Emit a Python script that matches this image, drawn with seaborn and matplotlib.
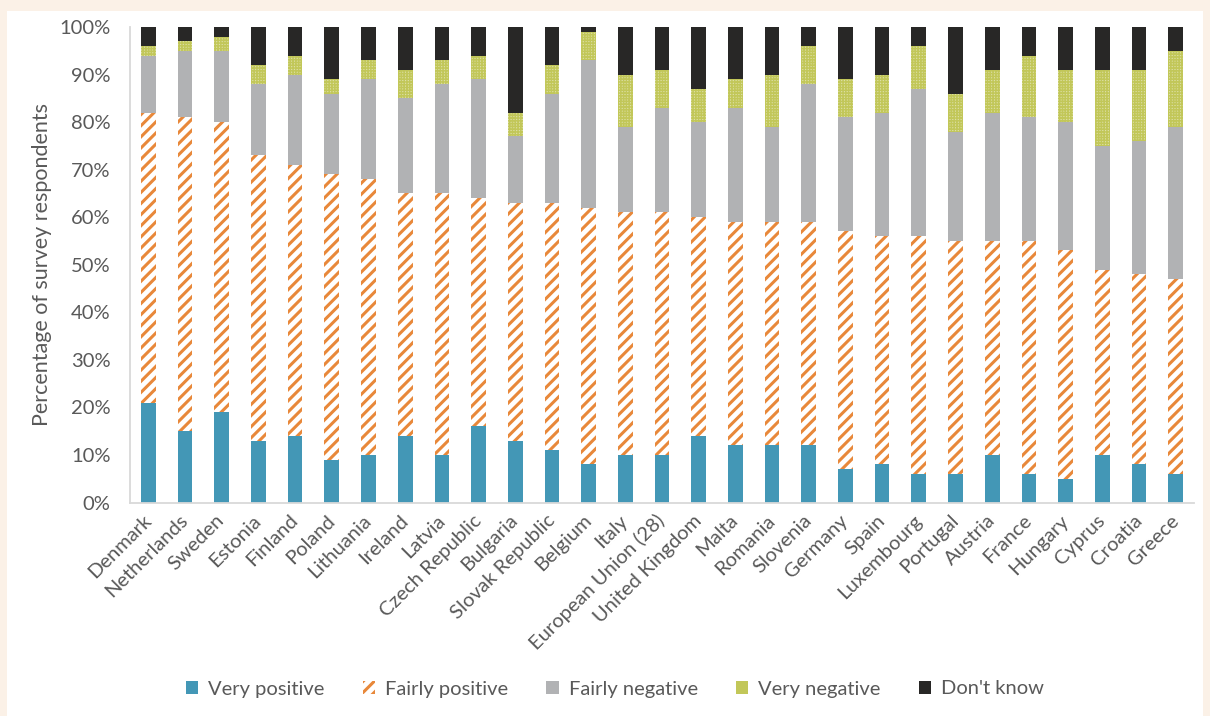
import numpy as np
import pandas as pd
import matplotlib
matplotlib.use("Agg")
import matplotlib.pyplot as plt
from matplotlib.patches import Rectangle
import seaborn as sns

countries = [
    "Denmark", "Netherlands", "Sweden", "Estonia", "Finland", "Poland",
    "Lithuania", "Ireland", "Latvia", "Czech Republic", "Bulgaria",
    "Slovak Republic", "Belgium", "Italy", "European Union (28)",
    "United Kingdom", "Malta", "Romania", "Slovenia", "Germany", "Spain",
    "Luxembourg", "Portugal", "Austria", "France", "Hungary", "Cyprus",
    "Croatia", "Greece",
]
very_positive = [21, 15, 19, 13, 14, 9, 10, 14, 10, 16, 13, 11, 8, 10, 10,
                 14, 12, 12, 12, 7, 8, 6, 6, 10, 6, 5, 10, 8, 6]
fairly_positive = [61, 66, 61, 60, 57, 60, 58, 51, 55, 48, 50, 52, 54, 51, 51,
                   46, 47, 47, 47, 50, 48, 50, 49, 45, 49, 48, 39, 40, 41]
fairly_negative = [12, 14, 15, 15, 19, 17, 21, 20, 23, 25, 14, 23, 31, 18, 22,
                   20, 24, 20, 29, 24, 26, 31, 23, 27, 26, 27, 26, 28, 32]
very_negative = [2, 2, 3, 4, 4, 3, 4, 6, 5, 5, 5, 6, 6, 11, 8,
                 7, 6, 11, 8, 8, 8, 9, 8, 9, 13, 11, 16, 15, 16]
dont_know = [4, 3, 2, 8, 6, 11, 7, 9, 7, 6, 18, 8, 1, 10, 9,
             13, 11, 10, 4, 11, 10, 4, 14, 9, 6, 9, 9, 9, 5]
series_names = ["Very positive", "Fairly positive", "Fairly negative",
                "Very negative", "Don't know"]

df = pd.DataFrame({
    "country": countries,
    "Very positive": very_positive,
    "Fairly positive": fairly_positive,
    "Fairly negative": fairly_negative,
    "Very negative": very_negative,
    "Don't know": dont_know,
})

sns.set_theme(style="white")
plt.rcParams["font.family"] = ["Lato", "DejaVu Sans"]
plt.rcParams["hatch.linewidth"] = 2.2
text_color = "#595959"
font_size = 14.5

# segment styles: facecolor, hatch, hatch colour, hatch line width
styles = {
    "Very positive": dict(facecolor="#4397B6", hatch=None, edgecolor="#4397B6", hlw=1.0),
    "Fairly positive": dict(facecolor="white", hatch="///", edgecolor="#E8883A", hlw=2.2),
    "Fairly negative": dict(facecolor="#B1B2B4", hatch=None, edgecolor="#B1B2B4", hlw=1.0),
    "Very negative": dict(facecolor="#DDE0A6", hatch="++++++", edgecolor="#C2C759", hlw=1.1),
    "Don't know": dict(facecolor="#282726", hatch=None, edgecolor="#282726", hlw=1.0),
}

fig = plt.figure(figsize=(12.1, 7.16), dpi=100, facecolor="#FBF1E7")
fig.patches.append(Rectangle((7 / 1210, 0), 1196 / 1210, 705 / 716,
                             transform=fig.transFigure, facecolor="white",
                             edgecolor="none", zorder=-10))
ax = fig.add_axes([130 / 1210, 1 - 502.5 / 716, 1064 / 1210, 475.5 / 716])
ax.set_facecolor("white")

bottom = np.zeros(len(countries))
for name in series_names:
    st = styles[name]
    sns.barplot(data=df, x="country", y=name, ax=ax, width=0.4,
                errorbar=None, label=name, bottom=bottom.copy(),
                color=st["facecolor"], saturation=1,
                facecolor=st["facecolor"], edgecolor=st["edgecolor"],
                hatch=st["hatch"], linewidth=0)
    for patch in ax.containers[-1]:
        if hasattr(patch, "set_hatch_linewidth"):
            patch.set_hatch_linewidth(st["hlw"])
    bottom += df[name].to_numpy()

if ax.get_legend() is not None:
    ax.get_legend().remove()

ax.set_ylim(0, 100)
ax.set_xlim(-0.5, len(countries) - 0.5)
ax.set_yticks(np.arange(0, 101, 10))
ax.set_yticklabels([f"{v}%" for v in range(0, 101, 10)])
ax.set_xticks(range(len(countries)))
ax.set_xticklabels(countries, rotation=45, ha="right", va="center",
                   rotation_mode="anchor")
ax.tick_params(axis="y", length=0, pad=14, labelsize=font_size, labelcolor=text_color)
ax.tick_params(axis="x", length=0, pad=11, labelsize=font_size, labelcolor=text_color)
ax.set_xlabel("")
ax.set_ylabel("Percentage of survey respondents", fontsize=15.5, color=text_color)
ax.yaxis.set_label_coords(-78 / 1064, 0.5)

for side in ("top", "right"):
    ax.spines[side].set_visible(False)
for side in ("left", "bottom"):
    ax.spines[side].set_color("#D9D9D9")
    ax.spines[side].set_linewidth(1.3)
ax.grid(False)

handles = list(ax.containers)
labels = [c.get_label() for c in handles]
leg = fig.legend(handles, labels, loc="center", bbox_to_anchor=(615 / 1210, 1 - 689 / 716),
                 ncol=5, frameon=False, fontsize=font_size, handlelength=0.6,
                 handleheight=0.6, handletextpad=0.5, columnspacing=1.9)
for t in leg.get_texts():
    t.set_color(text_color)

fig.savefig("out.png", dpi=100, facecolor=fig.get_facecolor())
